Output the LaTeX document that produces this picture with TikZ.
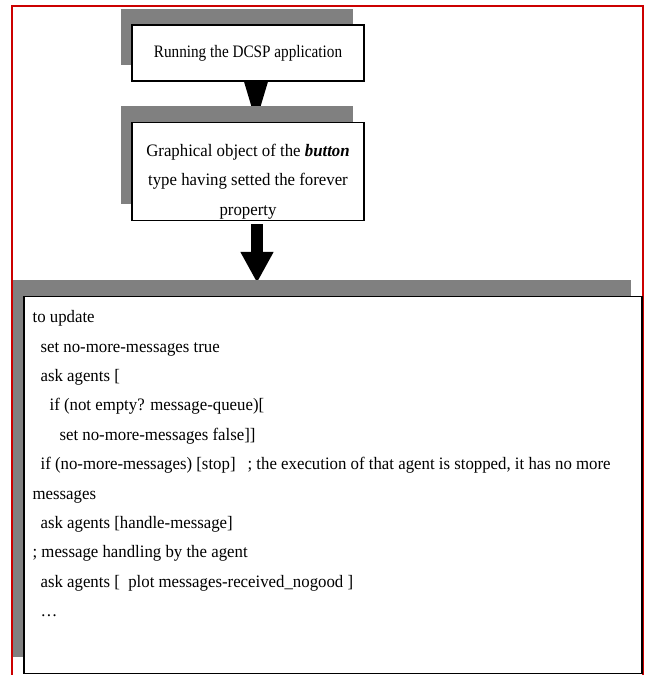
\documentclass[tikz,border=0pt]{standalone}
\usepackage{fontspec}
\setmainfont{Liberation Serif}[FakeStretch=0.96]
\newfontfamily\narrowserif{Liberation Serif}[FakeStretch=0.87]
\usepackage{tikz}
\usetikzlibrary{arrows.meta,positioning,calc,shadows,backgrounds}
\tikzset{
  every node/.append style={font=\fontsize{17.5pt}{29.4pt}\selectfont},
}
\newcommand{\ind}[1]{\hspace*{#1}}

\begin{document}
\begin{tikzpicture}[x=1pt, y=1pt,
  stepbox/.style={rectangle, draw=black, line width=1.2pt, fill=white,
                  minimum width=232pt, align=center, inner sep=4pt,
                  drop shadow={shadow xshift=-11pt, shadow yshift=16.5pt,
                               fill=black!50, opacity=1}},
  codebox/.style={stepbox, minimum width=618pt, minimum height=377pt},
  listing/.style={align=left, inner sep=0pt, anchor=north west},
  bigarrow/.style={-{Triangle[length=31pt,width=31pt]}, line width=12pt, draw=black},
  frame/.style={draw=red!80!black, line width=2pt}
]
\useasboundingbox (0,0) rectangle (645,-675);

% outer frame
\draw[frame] (12,-675) -- (12,-6) -- (643,-6) -- (643,-675);

% Steps
\node[stepbox, minimum height=56pt, font=\narrowserif\fontsize{17.5pt}{20pt}\selectfont] (run) at (248,-53)
  {Running the DCSP application};
\node[stepbox, minimum height=98pt, inner ysep=0pt, below=40pt of run] (graph)
  {\rule{0pt}{34pt}Graphical object of the \textbf{\textit{button}}\\type having setted the forever\\property\rule[-5pt]{0pt}{0pt}};
\node[codebox, anchor=north west] (code) at ([xshift=-108pt,yshift=-75pt]graph.south west) {};

% Code of the update procedure
\node[listing] (proc) at ([xshift=9pt,yshift=-14.5pt]code.north west) {%
to update\\
\ind{8pt}set no-more-messages true\\
\ind{8pt}ask agents [\\
\ind{17pt}if (not empty? message-queue)[\\
\ind{27pt}set no-more-messages false]]\\
\ind{8pt}if (no-more-messages) [stop]\ind{12pt}; the execution of that agent is stopped, it has no more\\
messages\\
\ind{8pt}ask agents [handle-message]\\
; message handling by the agent\\
\ind{8pt}ask agents [\ \ plot messages-received\_nogood ]\\
\ind{8pt}\dots};

% Flow arrows
\begin{scope}[on background layer]
\fill[black] ([xshift=-4pt]run.south) -- ([xshift=20pt]run.south) -- ([xshift=8pt]graph.north) -- cycle;
\draw[bigarrow] ([xshift=9pt,yshift=-3.5pt]graph.south) -- ($(graph.south |- code.north)+(9pt,13pt)$);
\end{scope}

\end{tikzpicture}
\end{document}
